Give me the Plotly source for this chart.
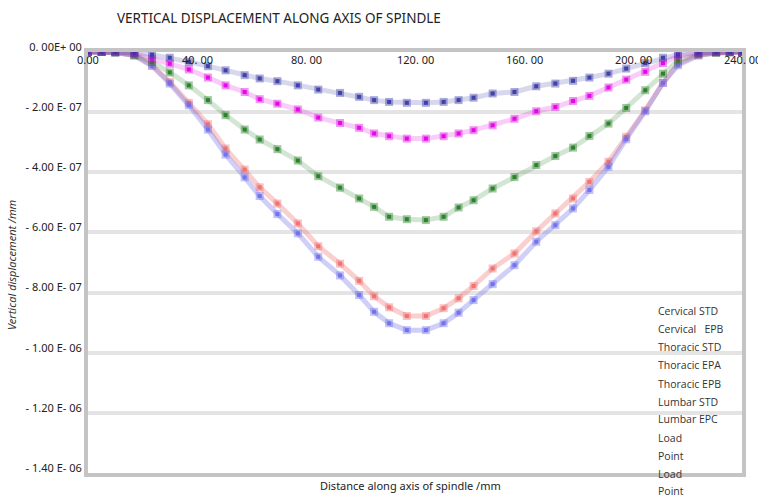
import plotly.graph_objects as go

# Distance along spindle axis (mm)
x_mm = [0, 5, 10, 17, 23.5, 30, 37, 44, 50.5, 57.5, 63, 69.5, 77, 84.5, 92.5, 99.5,
        105, 110.5, 117, 124, 130.5, 136, 141.5, 148.5, 156.5, 164.5, 171.5, 178,
        184, 191, 197.5, 204.5, 211, 216.5, 224, 230.5, 235.5, 240]

# Vertical displacement, in units of 1e-7 mm
navy_e7 = [0, 0, 0, -0.02, -0.09, -0.19, -0.33, -0.47, -0.61, -0.77, -0.88, -0.97, -1.11,
           -1.25, -1.36, -1.49, -1.60, -1.66, -1.69, -1.69, -1.66, -1.60, -1.52, -1.38,
           -1.33, -1.14, -1.05, -0.96, -0.85, -0.72, -0.55, -0.37, -0.19, -0.08, -0.02, 0, 0, 0]
magenta_e7 = [0, 0, 0, -0.05, -0.22, -0.39, -0.58, -0.85, -1.11, -1.33, -1.57, -1.72, -1.91,
              -2.18, -2.36, -2.52, -2.71, -2.80, -2.88, -2.88, -2.80, -2.71, -2.60, -2.44,
              -2.22, -1.97, -1.83, -1.63, -1.46, -1.18, -0.92, -0.66, -0.37, -0.14, -0.04, 0, 0, 0]
green_e7 = [0, 0, -0.02, -0.11, -0.33, -0.68, -1.11, -1.60, -2.10, -2.58, -2.91, -3.23, -3.61,
            -4.13, -4.51, -4.87, -5.15, -5.48, -5.56, -5.59, -5.48, -5.17, -4.93, -4.54,
            -4.16, -3.76, -3.46, -3.18, -2.79, -2.38, -1.86, -1.27, -0.72, -0.28, -0.08, -0.03, -0.02, 0]
salmon_e7 = [0, 0, -0.02, -0.10, -0.45, -1.00, -1.69, -2.40, -3.21, -3.91, -4.50, -5.04, -5.70,
             -6.46, -7.04, -7.61, -8.12, -8.49, -8.78, -8.78, -8.52, -8.19, -7.78, -7.20,
             -6.70, -5.96, -5.37, -4.87, -4.32, -3.65, -2.82, -1.94, -1.03, -0.39, -0.10, -0.02, 0, 0]
blue_e7 = [0, 0, -0.02, -0.12, -0.46, -1.05, -1.77, -2.58, -3.41, -4.17, -4.79, -5.39, -6.03,
           -6.81, -7.43, -8.08, -8.64, -9.02, -9.25, -9.25, -9.02, -8.67, -8.25, -7.72,
           -7.09, -6.31, -5.76, -5.20, -4.59, -3.82, -2.90, -1.97, -1.03, -0.44, -0.12, -0.02, 0, 0]

legend_labels = ["Cervical STD", "Cervical   EPB", "Thoracic STD", "Thoracic EPA",
                 "Thoracic EPB", "Lumbar STD", "Lumbar EPC", "Load", "Point", "Load", "Point"]

x_tickvals = [0, 40, 80, 120, 160, 200, 240]
x_ticktext = ["0.00", "40. 00", "80. 00", "120. 00", "160. 00", "200. 00", "240. 00"]
y_tickvals = [0, -2e-7, -4e-7, -6e-7, -8e-7, -1e-6, -1.2e-6, -1.4e-6]
y_ticktext = ["0. 00E+ 00", "- 2.00 E- 07", "- 4.00 E- 07", "- 6.00 E- 07", "- 8.00 E- 07",
              "- 1.00 E- 06", "- 1.20 E- 06", "- 1.40 E- 06"]

series = [
    ("salmon", salmon_e7, (240, 110, 110), 0.33),
    ("blue", blue_e7, (110, 110, 235), 0.33),
    ("green", green_e7, (35, 125, 35), 0.2),
    ("magenta", magenta_e7, (225, 0, 225), 0.2),
    ("navy", navy_e7, (55, 55, 165), 0.2),
]

TOP, BOT, LEFT, RIGHT = 51.7, 473.3, 88, 742
PH = BOT - TOP
PW = RIGHT - LEFT

def py2paper(py):
    return 1 - (py - TOP) / PH

def px2paper(px):
    return (px - LEFT) / PW

fig = go.Figure()
for name, vals, (r, g, b), la in series:
    y = [v * 1e-7 for v in vals]
    fig.add_trace(go.Scatter(
        x=x_mm, y=y, mode="lines+markers", name=name, showlegend=False,
        line=dict(color=f"rgba({r},{g},{b},{la})", width=5),
        marker=dict(symbol="square", size=8, color=f"rgba({r},{g},{b},0.42)",
                    line=dict(width=0)),
        cliponaxis=False,
    ))
    fig.add_trace(go.Scatter(
        x=x_mm, y=y, mode="markers", showlegend=False,
        marker=dict(symbol="square", size=4, color=f"rgba({r},{g},{b},0.9)",
                    line=dict(width=0)),
        cliponaxis=False,
    ))

ann = []
legend_y = [311, 329.3, 347.3, 365.3, 384, 402, 419.3, 438.3, 456, 474, 491.5]
for lab, py in zip(legend_labels, legend_y):
    ann.append(dict(text=lab, x=px2paper(655.5), xref="paper", xanchor="left",
                    y=py2paper(py), yref="paper", yanchor="middle",
                    showarrow=False, font=dict(family="Open Sans", size=10.5, color="#333")))

# top x-axis tick labels (drawn just under the top axis line)
for v, t in zip(x_tickvals, x_ticktext):
    ann.append(dict(text=t, x=v, xref="x", xanchor="center",
                    y=py2paper(59.5), yref="paper", yanchor="middle",
                    showarrow=False, font=dict(family="Noto Sans", size=11, color="#222")))

ann.append(dict(text="Vertical displacement /mm", textangle=-90, x=px2paper(12), xref="paper",
                xanchor="center", y=py2paper(265), yref="paper", yanchor="middle",
                showarrow=False,
                font=dict(family="Noto Sans", size=11, color="#333", style="italic")))
ann.append(dict(text="Distance along axis of spindle /mm", x=px2paper(410), xref="paper",
                y=py2paper(486), yref="paper", yanchor="middle", showarrow=False,
                font=dict(family="Noto Sans", size=11, color="#222")))

fig.update_layout(
    width=758, height=496,
    margin=dict(l=LEFT, r=758 - RIGHT, t=TOP, b=496 - BOT, autoexpand=False),
    paper_bgcolor="white", plot_bgcolor="white",
    title=dict(text="VERTICAL DISPLACEMENT ALONG AXIS OF SPINDLE", x=117 / 758, xanchor="left",
               y=1 - 18.5 / 496, yanchor="middle",
               font=dict(family="Noto Sans", size=13.5, color="#222")),
    annotations=ann,
    xaxis=dict(range=[0, 240], side="top", tickvals=x_tickvals, showticklabels=False,
               showgrid=False, zeroline=False, automargin=False,
               showline=True, linewidth=4, linecolor="#c4c4c4", mirror=True),
    yaxis=dict(range=[-1.4e-6, 0], tickvals=y_tickvals, ticktext=y_ticktext,
               showgrid=True, gridcolor="#e4e4e4", gridwidth=4, zeroline=False,
               automargin=False,
               showline=True, linewidth=4, linecolor="#c4c4c4", mirror=True,
               ticklabelshift=-5,
               tickfont=dict(family="Noto Sans", size=11, color="#222")),
)

fig.write_html("out.html", config={"displayModeBar": False},
               post_script="document.body.style.margin='0px';document.body.style.overflow='hidden';")
